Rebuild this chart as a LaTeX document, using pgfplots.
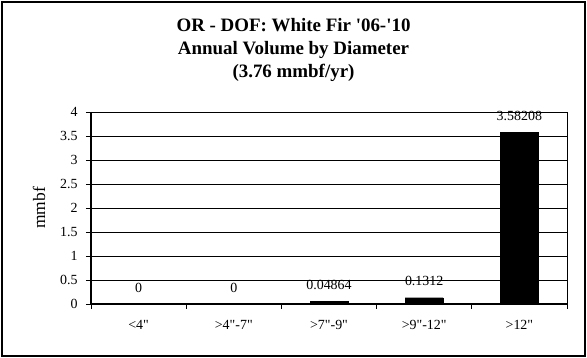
\documentclass[border=0pt]{standalone}
\usepackage{fontspec}
\setmainfont{Liberation Serif}
\usepackage{pgfplots}
\pgfplotsset{compat=1.18}
\begin{document}
\begin{tikzpicture}
\useasboundingbox (-91bp,-54bp) rectangle (496bp,304bp);
\begin{axis}[
  at={(0,0)}, anchor=south west,
  scale only axis,
  width=476bp, height=192bp,
  ybar, bar width=38bp,
  xmin=-0.5, xmax=4.5,
  ymin=0, ymax=4,
  ytick={0,0.5,...,4},
  xtick={0,1,2,3,4},
  xticklabels={<4\textquotedbl, >4\textquotedbl-7\textquotedbl, >7\textquotedbl-9\textquotedbl, >9\textquotedbl-12\textquotedbl, >12\textquotedbl},
  minor xtick={-0.5,0.5,1.5,2.5,3.5,4.5},
  major x tick style={draw=none},
  minor tick length=5bp,
  major tick length=5bp,
  tick align=outside,
  xtick pos=bottom, ytick pos=left,
  ymajorgrids,
  grid style={black, line width=0.8bp},
  axis line style={black, line width=0.8bp},
  tick style={black, line width=0.8bp},
  every tick label/.append style={font=\fontsize{14}{16}\selectfont},
  /pgf/number format/assume math mode=true,
  x tick label style={anchor=base, yshift=-20bp},
  y tick label style={xshift=-5bp},
  ylabel={mmbf},
  ylabel style={font=\fontsize{17.5}{20}\selectfont, at={(axis description cs:-0.109,0.5)}, anchor=center},
  point meta=explicit symbolic,
  nodes near coords={\pgfplotspointmeta},
  nodes near coords style={font=\fontsize{14}{16}\selectfont, anchor=base, yshift=12bp},
  clip=false,
]
\addplot[fill=black, draw=black] coordinates {
  (0,0) [0]
  (1,0) [0]
  (2,0.04864) [0.04864]
  (3,0.1312) [0.1312]
  (4,3.58208) [3.58208]
};
\draw[black, line width=1.8bp] (axis cs:-0.5,4) -- (axis cs:-0.5,0) -- (axis cs:4.5,0);
\end{axis}
\draw[black, line width=1.5bp] (-89bp,-52bp) rectangle (494bp,302bp);
\node[font=\bfseries\fontsize{19}{23}\selectfont, anchor=base] at (202.5bp,272bp) {OR - DOF: White Fir \textquotesingle06-\textquotesingle10};
\node[font=\bfseries\fontsize{19}{23}\selectfont, anchor=base] at (202.5bp,249bp) {Annual Volume by Diameter};
\node[font=\bfseries\fontsize{19}{23}\selectfont, anchor=base] at (202.5bp,226bp) {(3.76 mmbf/yr)};
\end{tikzpicture}
\end{document}
